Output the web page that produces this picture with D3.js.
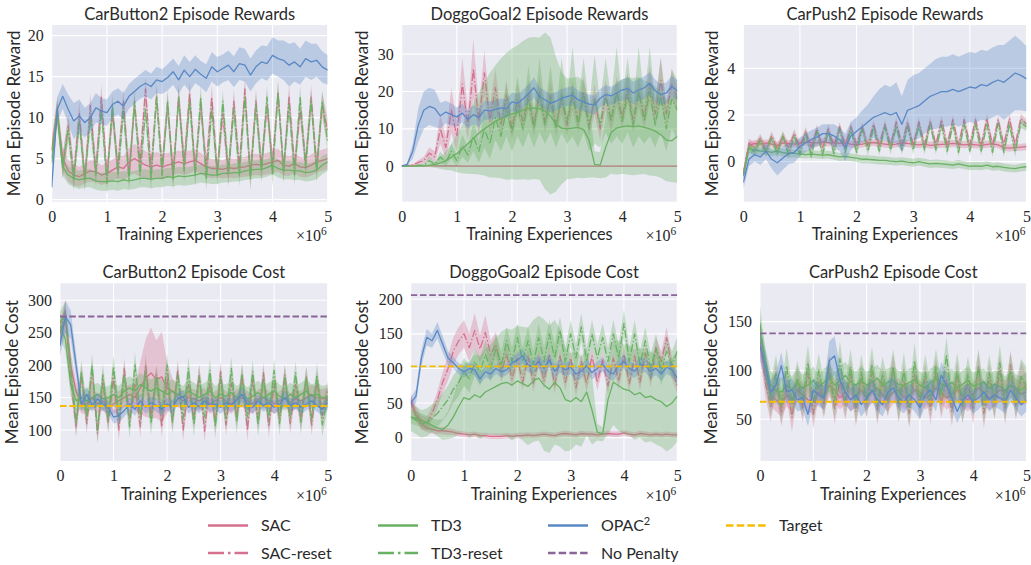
<!DOCTYPE html>
<html>
<head>
<meta charset="utf-8">
<script src="https://cdn.jsdelivr.net/npm/d3@7"></script>
<style>
  html, body { margin: 0; padding: 0; background: #ffffff; }
  svg { display: block; }
  .sans { font-family: Lato, "Open Sans", "DejaVu Sans", sans-serif; font-weight: 400; fill: #2a2a2a; }
  .serif { font-family: "Liberation Serif", "DejaVu Serif", serif; fill: #262626; }
</style>
</head>
<body>
<script>
// Training progress, in millions of environment steps
const steps = [0.0, 0.1, 0.2, 0.3, 0.4, 0.5, 0.6, 0.7, 0.8, 0.9,
  1.0, 1.1, 1.2, 1.3, 1.4, 1.5, 1.6, 1.7, 1.8, 1.9,
  2.0, 2.1, 2.2, 2.3, 2.4, 2.5, 2.6, 2.7, 2.8, 2.9,
  3.0, 3.1, 3.2, 3.3, 3.4, 3.5, 3.6, 3.7, 3.8, 3.9,
  4.0, 4.1, 4.2, 4.3, 4.4, 4.5, 4.6, 4.7, 4.8, 4.9,
  5.0];
const xTicks = [0, 1, 2, 3, 4, 5];

// ---------- CarButton2 rewards ----------
const cbRewOPAC = [1.5, 11.0, 12.6, 11.0, 9.6, 10.2, 9.4, 10.0, 11.2, 10.8,
  10.6, 11.6, 12.0, 11.4, 12.6, 13.2, 13.8, 14.2, 13.8, 14.6,
  14.4, 14.9, 15.6, 14.6, 15.8, 15.0, 15.9, 15.3, 14.8, 16.2,
  15.6, 16.0, 16.4, 15.6, 16.6, 16.4, 15.2, 16.2, 16.8, 16.6,
  17.6, 17.2, 17.0, 16.4, 16.8, 16.2, 17.2, 16.8, 17.0, 16.2,
  15.8];
const cbRewOPACsd = [0.5, 1.5, 1.5, 1.8, 2.2, 2.0, 1.8, 1.8, 1.8, 1.6,
  1.6, 1.6, 1.6, 1.6, 1.5, 1.5, 1.5, 1.6, 1.6, 1.6,
  1.5, 1.6, 1.6, 1.7, 1.8, 1.8, 1.7, 1.6, 1.7, 1.8,
  1.8, 1.7, 1.8, 1.9, 2.0, 2.0, 2.0, 2.0, 2.0, 2.1,
  2.2, 2.2, 2.4, 2.6, 2.4, 2.2, 2.2, 2.2, 2.0, 1.9,
  1.8];
const cbRewSAC = [6.0, 10.5, 5.0, 3.5, 3.0, 2.8, 3.2, 3.5, 3.4, 3.0,
  3.2, 3.6, 4.0, 3.8, 4.6, 5.0, 4.6, 4.2, 4.0, 4.2,
  4.0, 4.2, 4.4, 4.6, 4.4, 4.6, 4.8, 4.4, 4.0, 3.8,
  3.8, 3.7, 3.9, 3.8, 3.9, 4.0, 4.2, 4.3, 4.2, 4.4,
  4.6, 4.8, 4.2, 4.1, 4.4, 4.0, 3.9, 4.2, 4.6, 4.8,
  5.0];
const cbRewSACsd = [1.0, 1.5, 1.5, 1.3, 1.3, 1.2, 1.2, 1.3, 1.3, 1.2,
  1.2, 1.3, 1.4, 1.5, 1.7, 1.8, 1.8, 1.7, 1.6, 1.6,
  1.5, 1.5, 1.4, 1.4, 1.4, 1.4, 1.3, 1.3, 1.2, 1.2,
  1.1, 1.1, 1.2, 1.2, 1.2, 1.2, 1.3, 1.3, 1.3, 1.3,
  1.4, 1.4, 1.3, 1.2, 1.2, 1.2, 1.2, 1.3, 1.3, 1.3,
  1.3];
const cbRewTD3 = [4.5, 10.5, 4.0, 3.0, 2.6, 2.4, 2.6, 2.6, 2.3, 2.2,
  2.2, 2.3, 2.2, 2.4, 2.3, 2.4, 2.6, 2.6, 2.5, 2.6,
  2.6, 2.8, 2.7, 2.9, 2.8, 2.9, 3.0, 3.2, 3.1, 3.0,
  3.0, 3.2, 3.2, 3.3, 3.3, 3.5, 3.6, 3.7, 3.7, 3.9,
  4.2, 3.8, 3.6, 3.6, 3.5, 3.5, 3.3, 3.4, 3.6, 4.2,
  4.6];
const cbRewTD3sd = 1.1;
const cbRewSACReset = [6.0, 11.0, 4.0, 9.0, 3.0, 10.5, 2.5, 11.5, 3.5, 12.5,
  3.0, 10.5, 4.0, 12.0, 3.0, 11.5, 4.5, 13.5, 3.5, 12.5,
  4.0, 11.5, 3.0, 12.5, 4.5, 13.0, 3.5, 11.5, 4.0, 12.5,
  3.5, 10.5, 3.0, 12.0, 4.0, 13.5, 3.0, 12.0, 4.0, 11.5,
  4.5, 13.0, 3.5, 12.5, 4.0, 11.0, 4.5, 12.5, 4.0, 11.5,
  8.5];
const cbRewSACResetsd = 1.5;
const cbRewTD3Reset = [5.0, 11.0, 4.0, 8.5, 2.5, 9.5, 2.5, 10.0, 3.0, 11.0,
  2.0, 11.5, 3.0, 11.0, 2.5, 12.0, 3.0, 11.0, 2.5, 12.5,
  3.0, 12.0, 2.5, 12.5, 3.5, 12.0, 3.0, 12.5, 2.5, 11.0,
  3.0, 12.0, 3.5, 11.0, 3.0, 12.5, 2.5, 11.5, 3.5, 12.5,
  3.0, 13.0, 3.5, 11.5, 3.0, 12.5, 4.0, 12.0, 3.5, 12.0,
  7.0];
const cbRewTD3Resetsd = 1.4;

// ---------- DoggoGoal2 rewards ----------
const dgRewOPAC = [0.0, 0.5, 4.0, 11.0, 15.0, 16.0, 15.5, 13.5, 14.5, 13.8,
  13.2, 14.2, 12.5, 13.8, 13.0, 15.0, 14.8, 15.2, 15.6, 15.4,
  17.2, 16.8, 18.0, 19.4, 21.0, 18.6, 17.8, 16.8, 17.4, 18.2,
  18.6, 19.0, 17.8, 17.2, 16.6, 16.4, 18.2, 19.2, 18.8, 19.6,
  20.4, 20.8, 19.6, 20.4, 21.0, 22.2, 20.2, 19.2, 19.6, 21.4,
  20.2];
const dgRewOPACsd = [0.0, 0.3, 2.0, 4.5, 5.0, 5.0, 5.0, 3.5, 3.0, 3.0,
  2.5, 2.5, 2.5, 2.5, 2.5, 2.5, 2.5, 2.5, 2.5, 2.5,
  2.5, 2.5, 2.5, 2.5, 2.8, 2.5, 2.5, 2.5, 2.5, 2.5,
  2.5, 2.5, 2.5, 2.5, 2.5, 2.5, 2.5, 2.5, 2.5, 2.5,
  2.8, 3.0, 3.0, 3.0, 3.0, 3.0, 3.0, 2.8, 2.8, 2.8,
  2.8];
const dgRewSAC = [0.0, 0.05, 0.1, 0.1, 0.1, 0.1, 0.1, 0.05, 0.05, 0.05,
  0.05, 0.0, 0.0, 0.0, 0.0, 0.0, 0.0, 0.0, 0.0, 0.0,
  0.0, 0.0, 0.0, 0.0, 0.0, 0.0, 0.0, 0.0, 0.0, 0.0,
  0.0, 0.0, 0.0, 0.0, 0.0, 0.0, 0.0, 0.0, 0.0, 0.0,
  0.0, 0.0, 0.0, 0.0, 0.0, 0.0, 0.0, 0.0, 0.0, 0.0,
  0.0];
const dgRewSACsd = 0.2;
const dgRewTD3 = [0.0, 0.0, 0.0, 0.0, 0.1, 0.2, 0.4, 0.8, 1.5, 2.4,
  3.4, 4.6, 6.0, 7.4, 8.8, 10.0, 11.0, 12.0, 12.8, 13.4,
  14.0, 14.4, 15.0, 15.4, 15.6, 15.4, 14.8, 13.4, 11.2, 10.2,
  10.0, 10.2, 10.4, 9.8, 7.0, 0.5, 0.3, 5.0, 9.0, 10.2,
  10.6, 10.8, 10.6, 10.8, 10.4, 10.0, 9.4, 8.4, 7.0, 6.8,
  8.0];
const dgRewTD3sd = [0.0, 0.0, 0.0, 0.0, 0.2, 0.4, 0.8, 1.5, 2.5, 3.5,
  5.0, 6.5, 8.0, 9.5, 11.0, 12.5, 14.0, 15.0, 16.0, 17.0,
  17.5, 18.0, 18.5, 19.0, 19.0, 19.0, 21.0, 21.0, 18.0, 15.0,
  13.5, 13.5, 13.5, 13.0, 10.0, 3.5, 3.5, 8.0, 11.0, 12.5,
  12.6, 13.0, 13.0, 13.0, 12.5, 12.5, 12.0, 11.5, 11.0, 11.0,
  12.5];
const dgRewSACReset = [0.0, 0.2, 0.3, 1.0, 1.5, 3.5, 2.5, 10.0, 5.0, 15.0,
  8.0, 22.0, 11.0, 26.0, 12.0, 25.0, 12.0, 21.0, 11.0, 19.0,
  10.0, 18.0, 12.0, 19.0, 11.0, 20.0, 12.0, 19.0, 11.0, 18.0,
  11.0, 19.0, 12.0, 20.0, 11.0, 18.0, 10.0, 19.0, 12.0, 20.0,
  13.0, 21.0, 12.0, 20.0, 13.0, 22.0, 14.0, 23.0, 14.0, 22.0,
  18.0];
const dgRewSACResetsd = [0.0, 0.2, 0.3, 0.5, 1.0, 1.5, 1.5, 4.0, 3.0, 6.0,
  4.0, 7.0, 4.0, 8.0, 4.0, 6.0, 4.0, 5.0, 3.0, 4.0,
  3.0, 4.0, 3.0, 4.0, 3.0, 4.0, 3.0, 4.0, 3.0, 4.0,
  3.0, 4.0, 3.0, 4.0, 3.0, 4.0, 3.0, 4.0, 3.0, 4.0,
  3.0, 4.0, 3.0, 4.0, 3.0, 5.0, 3.0, 6.0, 3.0, 4.0,
  3.0];
const dgRewTD3Reset = [0.0, 0.0, 0.0, 0.3, 0.2, 1.5, 0.5, 2.5, 1.0, 4.0,
  1.5, 5.5, 3.0, 8.0, 4.0, 10.0, 6.0, 13.0, 8.0, 15.0,
  9.0, 16.0, 10.0, 18.0, 10.0, 19.0, 11.0, 18.0, 10.0, 19.0,
  12.0, 20.0, 11.0, 19.0, 10.0, 18.0, 11.0, 19.0, 12.0, 20.0,
  12.0, 19.0, 11.0, 20.0, 12.0, 20.0, 11.0, 19.0, 10.0, 18.0,
  15.0];
const dgRewTD3Resetsd = [0.0, 0.0, 0.0, 0.3, 0.3, 1.0, 0.5, 1.5, 1.0, 2.0,
  1.5, 3.0, 2.0, 4.0, 3.0, 5.0, 4.0, 6.0, 4.0, 7.0,
  5.0, 8.0, 5.0, 9.0, 5.0, 10.0, 5.0, 9.0, 5.0, 10.0,
  6.0, 12.0, 6.0, 10.0, 6.0, 12.0, 6.0, 10.0, 6.0, 12.0,
  6.0, 10.0, 6.0, 12.0, 6.0, 12.0, 6.0, 10.0, 6.0, 8.0,
  8.0];

// ---------- CarPush2 rewards ----------
const cpRewOPAC = [-0.9, 0.1, 0.3, 0.2, 0.45, 0.1, -0.05, 0.15, 0.35, 0.4,
  0.65, 0.8, 0.95, 1.05, 1.2, 1.2, 1.1, 0.95, 0.6, 1.1,
  1.3, 1.5, 1.7, 1.9, 2.0, 2.1, 2.0, 2.1, 1.6, 2.2,
  2.3, 2.4, 2.6, 2.8, 2.9, 3.0, 3.0, 3.1, 3.0, 3.1,
  3.2, 3.15, 3.3, 3.25, 3.4, 3.5, 3.4, 3.6, 3.8, 3.7,
  3.55];
const cpRewOPACsd = [0.3, 0.3, 0.3, 0.35, 0.35, 0.4, 0.55, 0.5, 0.45, 0.45,
  0.4, 0.4, 0.4, 0.4, 0.4, 0.4, 0.5, 0.5, 0.6, 0.6,
  0.6, 0.7, 0.75, 0.9, 1.1, 1.2, 1.2, 1.3, 1.2, 1.3,
  1.4, 1.4, 1.4, 1.4, 1.5, 1.5, 1.5, 1.5, 1.5, 1.5,
  1.5, 1.5, 1.5, 1.5, 1.5, 1.5, 1.6, 1.6, 1.6, 1.5,
  1.4];
const cpRewSAC = [-0.5, 0.7, 0.78, 0.76, 0.8, 0.75, 0.7, 0.8, 0.78, 0.75,
  0.8, 0.85, 0.82, 0.8, 0.85, 0.8, 0.82, 0.78, 0.8, 0.75,
  0.72, 0.75, 0.8, 0.82, 0.78, 0.75, 0.72, 0.75, 0.8, 0.78,
  0.74, 0.72, 0.75, 0.7, 0.72, 0.74, 0.75, 0.78, 0.75, 0.72,
  0.74, 0.72, 0.7, 0.74, 0.76, 0.72, 0.6, 0.58, 0.6, 0.62,
  0.64];
const cpRewSACsd = 0.15;
const cpRewTD3 = [-0.6, 0.55, 0.5, 0.45, 0.45, 0.4, 0.45, 0.38, 0.35, 0.35,
  0.33, 0.3, 0.32, 0.3, 0.28, 0.3, 0.25, 0.2, 0.22, 0.18,
  0.15, 0.1, 0.1, 0.08, 0.05, 0.05, 0.02, 0.0, 0.02, -0.02,
  -0.05, 0.0, -0.05, -0.1, -0.08, -0.1, -0.12, -0.15, -0.1, -0.15,
  -0.2, -0.18, -0.2, -0.15, -0.22, -0.2, -0.25, -0.28, -0.3, -0.25,
  -0.22];
const cpRewTD3sd = 0.17;
const cpRewSACReset = [-0.5, 0.8, 0.6, 1.0, 0.5, 1.1, 0.55, 1.1, 0.6, 1.2,
  0.6, 1.3, 0.6, 1.4, 0.6, 1.4, 0.65, 1.5, 0.7, 1.5,
  0.7, 1.5, 0.7, 1.6, 0.7, 1.6, 0.7, 1.7, 0.7, 1.7,
  0.7, 1.7, 0.7, 1.75, 0.7, 1.8, 0.7, 1.8, 0.7, 1.8,
  0.7, 1.8, 0.7, 1.85, 0.7, 1.8, 0.7, 1.85, 0.7, 1.85,
  1.6];
const cpRewSACResetsd = 0.2;
const cpRewTD3Reset = [-0.6, 0.6, 0.4, 0.9, 0.4, 1.0, 0.35, 1.1, 0.3, 1.1,
  0.3, 1.2, 0.25, 1.3, 0.3, 1.3, 0.35, 1.4, 0.4, 1.4,
  0.4, 1.4, 0.45, 1.45, 0.45, 1.5, 0.5, 1.5, 0.5, 1.5,
  0.5, 1.55, 0.5, 1.6, 0.5, 1.55, 0.45, 1.6, 0.4, 1.6,
  0.45, 1.6, 0.45, 1.6, 0.4, 1.65, 0.4, 1.6, 0.4, 1.65,
  1.5];
const cpRewTD3Resetsd = 0.2;

// ---------- CarButton2 cost ----------
const cbCostOPAC = [230, 275, 262, 200, 140, 155, 138, 148, 140, 135,
  120, 122, 130, 140, 132, 145, 135, 142, 138, 132,
  140, 136, 148, 152, 135, 142, 136, 145, 138, 140,
  135, 142, 138, 146, 155, 140, 135, 145, 138, 142,
  135, 140, 150, 138, 142, 135, 140, 145, 138, 132,
  142];
const cbCostOPACsd = [15, 25, 22, 18, 12, 12, 10, 10, 10, 10,
  10, 10, 10, 10, 10, 10, 10, 10, 10, 10,
  10, 10, 10, 10, 10, 10, 10, 10, 10, 10,
  10, 10, 10, 10, 12, 10, 10, 10, 10, 10,
  10, 10, 12, 10, 10, 10, 10, 10, 10, 10,
  10];
const cbCostSAC = [250, 270, 200, 160, 140, 140, 150, 140, 145, 135,
  140, 145, 150, 155, 150, 165, 180, 188, 178, 182,
  165, 160, 150, 145, 150, 148, 145, 150, 140, 145,
  150, 145, 140, 148, 150, 145, 140, 148, 150, 145,
  140, 145, 150, 142, 148, 145, 150, 155, 150, 148,
  150];
const cbCostSACsd = [15, 20, 20, 15, 15, 15, 15, 15, 15, 15,
  15, 15, 15, 15, 20, 40, 60, 70, 60, 70,
  40, 20, 15, 15, 15, 15, 15, 15, 15, 15,
  15, 15, 15, 15, 15, 15, 15, 15, 15, 15,
  15, 15, 15, 15, 15, 15, 15, 15, 15, 15,
  15];
const cbCostTD3 = [260, 240, 170, 145, 150, 145, 150, 155, 148, 150,
  155, 150, 160, 165, 160, 170, 165, 160, 165, 160,
  155, 160, 155, 150, 160, 155, 150, 155, 160, 150,
  155, 152, 158, 150, 155, 148, 152, 158, 150, 155,
  160, 152, 148, 155, 150, 155, 160, 152, 155, 150,
  152];
const cbCostTD3sd = 18;
const cbCostSACReset = [250, 285, 180, 105, 185, 110, 190, 95, 175, 112,
  180, 100, 195, 115, 170, 105, 200, 120, 185, 105,
  178, 115, 192, 100, 170, 118, 185, 98, 175, 112,
  190, 108, 172, 120, 185, 100, 178, 115, 188, 105,
  172, 118, 185, 110, 170, 115, 182, 108, 176, 122,
  160];
const cbCostSACResetsd = 16;
const cbCostTD3Reset = [265, 280, 200, 110, 190, 120, 200, 100, 185, 115,
  198, 118, 185, 105, 202, 120, 190, 110, 180, 125,
  200, 112, 185, 118, 195, 108, 182, 120, 192, 105,
  180, 118, 195, 112, 185, 120, 190, 108, 178, 118,
  192, 110, 182, 120, 188, 112, 180, 118, 185, 108,
  150];
const cbCostTD3Resetsd = 18;

// ---------- DoggoGoal2 cost ----------
const dgCostOPAC = [50, 60, 115, 145, 140, 155, 135, 115, 108, 100,
  95, 100, 98, 85, 95, 92, 100, 95, 98, 108,
  112, 118, 105, 102, 110, 100, 112, 96, 104, 98,
  102, 92, 96, 104, 94, 100, 106, 96, 92, 104,
  110, 100, 96, 106, 104, 96, 100, 92, 102, 98,
  86];
const dgCostOPACsd = [8, 10, 12, 12, 10, 12, 12, 10, 8, 8,
  8, 8, 8, 8, 8, 8, 8, 8, 8, 8,
  10, 10, 10, 10, 10, 10, 10, 10, 10, 10,
  10, 10, 10, 10, 10, 10, 10, 10, 10, 10,
  10, 10, 10, 10, 10, 10, 10, 10, 10, 10,
  10];
const dgCostSAC = [55, 32, 20, 14, 12, 10, 10, 9, 8, 6,
  5, 4, 5, 3, 3, 2, 2, 2, 3, 2,
  3, 3, 4, 3, 4, 5, 4, 3, 5, 6,
  5, 4, 6, 5, 5, 4, 5, 6, 5, 5,
  7, 5, 4, 6, 5, 4, 5, 4, 5, 4,
  4];
const dgCostSACsd = [10, 8, 8, 6, 6, 5, 5, 5, 4, 4,
  4, 4, 4, 4, 4, 4, 4, 4, 4, 4,
  4, 4, 4, 4, 4, 4, 4, 4, 4, 4,
  4, 4, 4, 4, 4, 4, 4, 4, 4, 4,
  4, 4, 4, 4, 4, 4, 4, 4, 4, 4,
  4];
const dgCostTD3 = [30, 28, 25, 22, 18, 14, 12, 18, 30, 45,
  58, 55, 62, 58, 66, 70, 74, 78, 80, 76,
  82, 78, 74, 82, 86, 76, 70, 80, 72, 55,
  52, 58, 52, 66, 40, 8, 5, 55, 80, 75,
  70, 68, 62, 65, 58, 60, 55, 52, 45, 50,
  60];
const dgCostTD3sd = [10, 10, 10, 10, 10, 12, 15, 20, 30, 40,
  50, 55, 58, 60, 62, 65, 70, 75, 78, 80,
  80, 82, 85, 88, 90, 95, 92, 90, 85, 75,
  70, 68, 65, 62, 50, 12, 10, 50, 62, 65,
  65, 65, 65, 65, 65, 65, 65, 65, 65, 65,
  65];
const dgCostSACReset = [50, 35, 22, 20, 35, 55, 80, 100, 125, 140,
  150, 130, 155, 128, 152, 120, 135, 95, 120, 85,
  115, 80, 118, 78, 115, 82, 120, 75, 118, 80,
  115, 72, 110, 78, 118, 80, 112, 75, 115, 82,
  120, 78, 118, 80, 122, 85, 130, 110, 145, 100,
  75];
const dgCostSACResetsd = [10, 10, 10, 10, 10, 12, 15, 18, 20, 20,
  20, 20, 25, 20, 25, 20, 18, 15, 15, 12,
  12, 12, 12, 12, 12, 12, 12, 12, 12, 12,
  12, 12, 12, 12, 12, 12, 12, 12, 12, 12,
  12, 12, 12, 12, 12, 12, 15, 15, 15, 15,
  12];
const dgCostTD3Reset = [30, 25, 20, 22, 28, 35, 45, 55, 70, 80,
  95, 85, 110, 95, 120, 100, 130, 105, 140, 110,
  145, 110, 140, 105, 145, 110, 150, 115, 155, 110,
  150, 115, 160, 110, 150, 115, 145, 110, 150, 115,
  165, 110, 150, 105, 140, 100, 130, 95, 125, 105,
  125];
const dgCostTD3Resetsd = 20;

// ---------- CarPush2 cost ----------
const cpCostOPAC = [125, 105, 78, 85, 105, 78, 80, 70, 72, 55,
  80, 75, 72, 110, 115, 90, 78, 70, 75, 65,
  72, 80, 70, 65, 78, 82, 72, 68, 75, 70,
  62, 75, 80, 70, 95, 85, 72, 58, 70, 75,
  68, 72, 78, 70, 75, 72, 68, 80, 72, 65,
  70];
const cpCostOPACsd = [15, 15, 12, 12, 14, 12, 12, 12, 12, 12,
  12, 12, 12, 20, 20, 14, 12, 12, 12, 12,
  12, 12, 12, 12, 12, 12, 12, 12, 12, 12,
  12, 12, 12, 12, 14, 12, 12, 12, 12, 12,
  12, 12, 12, 12, 12, 12, 12, 12, 12, 12,
  12];
const cpCostSAC = [130, 95, 75, 70, 65, 75, 70, 80, 75, 70,
  68, 78, 72, 85, 80, 72, 78, 70, 75, 80,
  72, 78, 82, 75, 70, 78, 80, 72, 75, 80,
  78, 72, 75, 82, 78, 72, 76, 80, 74, 70,
  76, 82, 78, 72, 75, 80, 78, 85, 80, 76,
  78];
const cpCostSACsd = 12;
const cpCostTD3 = [140, 110, 85, 80, 78, 85, 80, 88, 82, 85,
  90, 82, 88, 92, 85, 90, 95, 88, 85, 90,
  85, 88, 92, 85, 88, 90, 86, 84, 88, 90,
  85, 82, 88, 92, 86, 84, 88, 82, 86, 90,
  84, 86, 88, 82, 86, 84, 80, 85, 82, 80,
  84];
const cpCostTD3sd = 14;
const cpCostSACReset = [130, 88, 62, 92, 58, 85, 52, 90, 62, 98,
  55, 88, 66, 102, 60, 90, 64, 96, 58, 92,
  66, 98, 60, 88, 68, 102, 62, 90, 56, 96,
  64, 92, 60, 98, 66, 90, 58, 94, 62, 88,
  60, 104, 56, 92, 66, 100, 60, 106, 64, 94,
  80];
const cpCostSACResetsd = 15;
const cpCostTD3Reset = [148, 102, 70, 98, 64, 105, 66, 92, 70, 108,
  66, 100, 72, 96, 68, 112, 70, 104, 64, 98,
  70, 106, 66, 96, 72, 104, 66, 100, 62, 110,
  68, 98, 70, 104, 74, 116, 66, 100, 64, 96,
  70, 104, 64, 98, 68, 108, 66, 100, 70, 94,
  85];
const cpCostTD3Resetsd = 18;

// Reference levels for the cost panels
const targetCost = { carButton: 137, doggoGoal: 103, carPush: 68 };
const noPenaltyCost = { carButton: 275, doggoGoal: 206, carPush: 138 };

// ---------- styles ----------
const COLORS = {
  SAC: "#d5708e",
  TD3: "#69b163",
  OPAC: "#5a88c5",
  target: "#f5bd00",
  noPenalty: "#8a6597"
};
const BG = "#eaeaf2";

function mk(name, color, mean, sd, dashed) {
  return { name, color, mean, sd, dashed };
}

const panels = [
  {
    title: "CarButton2 Episode Rewards", ylabel: "Mean Episode Reward",
    box: [51.7, 25, 327.7, 201.7], yDomain: [-0.25, 21.3], yTicks: [0, 5, 10, 15, 20], ylabelX: 20,
    series: [
      mk("SAC", COLORS.SAC, cbRewSAC, cbRewSACsd, false),
      mk("SAC-reset", COLORS.SAC, cbRewSACReset, cbRewSACResetsd, true),
      mk("TD3", COLORS.TD3, cbRewTD3, cbRewTD3sd, false),
      mk("TD3-reset", COLORS.TD3, cbRewTD3Reset, cbRewTD3Resetsd, true),
      mk("OPAC", COLORS.OPAC, cbRewOPAC, cbRewOPACsd, false)
    ]
  },
  {
    title: "DoggoGoal2 Episode Rewards", ylabel: "Mean Episode Reward",
    box: [401.7, 25, 677.3, 201.7], yDomain: [-9.5, 37.8], yTicks: [0, 10, 20, 30], ylabelX: 368,
    series: [
      mk("SAC", COLORS.SAC, dgRewSAC, dgRewSACsd, false),
      mk("SAC-reset", COLORS.SAC, dgRewSACReset, dgRewSACResetsd, true),
      mk("TD3", COLORS.TD3, dgRewTD3, dgRewTD3sd, false),
      mk("TD3-reset", COLORS.TD3, dgRewTD3Reset, dgRewTD3Resetsd, true),
      mk("OPAC", COLORS.OPAC, dgRewOPAC, dgRewOPACsd, false)
    ]
  },
  {
    title: "CarPush2 Episode Rewards", ylabel: "Mean Episode Reward",
    box: [743.3, 25, 1026.5, 201.7], yDomain: [-1.72, 5.86], yTicks: [0, 2, 4], ylabelX: 718,
    series: [
      mk("SAC", COLORS.SAC, cpRewSAC, cpRewSACsd, false),
      mk("SAC-reset", COLORS.SAC, cpRewSACReset, cpRewSACResetsd, true),
      mk("TD3", COLORS.TD3, cpRewTD3, cpRewTD3sd, false),
      mk("TD3-reset", COLORS.TD3, cpRewTD3Reset, cpRewTD3Resetsd, true),
      mk("OPAC", COLORS.OPAC, cpRewOPAC, cpRewOPACsd, false)
    ]
  },
  {
    title: "CarButton2 Episode Cost", ylabel: "Mean Episode Cost",
    box: [60, 283.3, 327.7, 461], yDomain: [52.2, 326.2], yTicks: [100, 150, 200, 250, 300], ylabelX: 18,
    target: targetCost.carButton, noPenalty: noPenaltyCost.carButton,
    series: [
      mk("SAC", COLORS.SAC, cbCostSAC, cbCostSACsd, false),
      mk("SAC-reset", COLORS.SAC, cbCostSACReset, cbCostSACResetsd, true),
      mk("TD3", COLORS.TD3, cbCostTD3, cbCostTD3sd, false),
      mk("TD3-reset", COLORS.TD3, cbCostTD3Reset, cbCostTD3Resetsd, true),
      mk("OPAC", COLORS.OPAC, cbCostOPAC, cbCostOPACsd, false)
    ]
  },
  {
    title: "DoggoGoal2 Episode Cost", ylabel: "Mean Episode Cost",
    box: [410.7, 283.3, 677.3, 461], yDomain: [-33.7, 223], yTicks: [0, 50, 100, 150, 200], ylabelX: 368,
    target: targetCost.doggoGoal, noPenalty: noPenaltyCost.doggoGoal,
    series: [
      mk("SAC", COLORS.SAC, dgCostSAC, dgCostSACsd, false),
      mk("SAC-reset", COLORS.SAC, dgCostSACReset, dgCostSACResetsd, true),
      mk("TD3", COLORS.TD3, dgCostTD3, dgCostTD3sd, false),
      mk("TD3-reset", COLORS.TD3, dgCostTD3Reset, dgCostTD3Resetsd, true),
      mk("OPAC", COLORS.OPAC, dgCostOPAC, dgCostOPACsd, false)
    ]
  },
  {
    title: "CarPush2 Episode Cost", ylabel: "Mean Episode Cost",
    box: [760, 283.3, 1026.5, 461], yDomain: [7.3, 189.3], yTicks: [50, 100, 150], ylabelX: 717,
    target: targetCost.carPush, noPenalty: noPenaltyCost.carPush,
    series: [
      mk("SAC", COLORS.SAC, cpCostSAC, cpCostSACsd, false),
      mk("SAC-reset", COLORS.SAC, cpCostSACReset, cpCostSACResetsd, true),
      mk("TD3", COLORS.TD3, cpCostTD3, cpCostTD3sd, false),
      mk("TD3-reset", COLORS.TD3, cpCostTD3Reset, cpCostTD3Resetsd, true),
      mk("OPAC", COLORS.OPAC, cpCostOPAC, cpCostOPACsd, false)
    ]
  }
];

const W = 1031, H = 565;
const svg = d3.select("body").append("svg").attr("width", W).attr("height", H);

panels.forEach((p, pi) => {
  const [left, top, right, bottom] = p.box;
  const x = d3.scaleLinear().domain([0, 5]).range([left, right]);
  const y = d3.scaleLinear().domain(p.yDomain).range([bottom, top]);
  const g = svg.append("g");

  g.append("rect").attr("x", left).attr("y", top)
    .attr("width", right - left).attr("height", bottom - top).attr("fill", BG);

  // white grid
  g.selectAll(null).data(xTicks).join("line")
    .attr("x1", d => x(d)).attr("x2", d => x(d)).attr("y1", top).attr("y2", bottom)
    .attr("stroke", "#fff").attr("stroke-width", 1.1);
  g.selectAll(null).data(p.yTicks).join("line")
    .attr("x1", left).attr("x2", right).attr("y1", d => y(d)).attr("y2", d => y(d))
    .attr("stroke", "#fff").attr("stroke-width", 1.1);

  const clipId = "clip" + pi;
  svg.append("clipPath").attr("id", clipId).append("rect")
    .attr("x", left).attr("y", top).attr("width", right - left).attr("height", bottom - top);
  const plot = g.append("g").attr("clip-path", `url(#${clipId})`);

  p.series.forEach(s => {
    const sdAt = i => Array.isArray(s.sd) ? s.sd[i] : s.sd;
    const pts = steps.map((t, i) => ({ t, m: s.mean[i], sd: sdAt(i) }));
    const area = d3.area().x(d => x(d.t)).y0(d => y(d.m - d.sd)).y1(d => y(d.m + d.sd));
    const line = d3.line().x(d => x(d.t)).y(d => y(d.m));
    plot.append("path").attr("d", area(pts)).attr("fill", s.color).attr("fill-opacity", 0.33);
    plot.append("path").attr("d", line(pts)).attr("fill", "none").attr("stroke", s.color)
      .attr("stroke-width", 1.3).attr("stroke-linejoin", "round")
      .attr("stroke-dasharray", s.dashed ? "8,2.2,1.4,2.2" : null);
  });

  if (p.target !== undefined) {
    plot.append("line").attr("x1", left).attr("x2", right)
      .attr("y1", y(p.target)).attr("y2", y(p.target))
      .attr("stroke", COLORS.target).attr("stroke-width", 1.8).attr("stroke-dasharray", "6.5,2.8");
    plot.append("line").attr("x1", left).attr("x2", right)
      .attr("y1", y(p.noPenalty)).attr("y2", y(p.noPenalty))
      .attr("stroke", COLORS.noPenalty).attr("stroke-width", 1.8).attr("stroke-dasharray", "6.5,2.8");
  }

  // axes
  const xAxis = d3.axisBottom(x).tickValues(xTicks).tickSize(0).tickPadding(9).tickFormat(d3.format("d"));
  const yAxis = d3.axisLeft(y).tickValues(p.yTicks).tickSize(0).tickPadding(8).tickFormat(d3.format("d"));
  const gx = g.append("g").attr("transform", `translate(0,${bottom})`).call(xAxis);
  const gy = g.append("g").attr("transform", `translate(${left},0)`).call(yAxis);
  [gx, gy].forEach(a => {
    a.select(".domain").remove();
    a.selectAll("text").attr("class", "serif").style("font-size", "16px").attr("fill", "#262626");
  });

  // title and labels
  const cx = (left + right) / 2;
  g.append("text").attr("class", "sans").attr("x", cx).attr("y", top - 5.5)
    .attr("text-anchor", "middle").style("font-size", "16.5px").text(p.title);
  g.append("text").attr("class", "sans").attr("x", cx).attr("y", bottom + 38.5)
    .attr("text-anchor", "middle").style("font-size", "16.3px").text("Training Experiences");
  const mult = g.append("text").attr("class", "serif").attr("x", right - 1).attr("y", bottom + 39.5)
    .attr("text-anchor", "end").style("font-size", "16px");
  mult.append("tspan").text("\u00d710");
  mult.append("tspan").attr("dy", -6).style("font-size", "11.5px").text("6");
  g.append("text").attr("class", "sans")
    .attr("transform", `translate(${p.ylabelX},${(top + bottom) / 2}) rotate(-90)`)
    .attr("text-anchor", "middle").style("font-size", "17px").text(p.ylabel);
});

// ---------- legend ----------
const legendItems = [
  { label: "SAC", color: COLORS.SAC, dash: null, col: 0, row: 0 },
  { label: "SAC-reset", color: COLORS.SAC, dash: "16,4,2.5,4", col: 0, row: 1 },
  { label: "TD3", color: COLORS.TD3, dash: null, col: 1, row: 0 },
  { label: "TD3-reset", color: COLORS.TD3, dash: "16,4,2.5,4", col: 1, row: 1 },
  { label: "OPAC", sup: "2", color: COLORS.OPAC, dash: null, col: 2, row: 0 },
  { label: "No Penalty", color: COLORS.noPenalty, dash: "7.5,3.2", col: 2, row: 1 },
  { label: "Target", color: COLORS.target, dash: "7.5,3.2", col: 3, row: 0 }
];
const legendColX = [208, 378, 548, 726];
const legendRowY = [525.5, 553];
const lg = svg.append("g");
legendItems.forEach(it => {
  const x0 = legendColX[it.col], y0 = legendRowY[it.row];
  lg.append("line").attr("x1", x0).attr("x2", x0 + 40).attr("y1", y0).attr("y2", y0)
    .attr("stroke", it.color).attr("stroke-width", 2.6).attr("stroke-dasharray", it.dash);
  const t = lg.append("text").attr("class", "sans").attr("x", x0 + 53).attr("y", y0 + 5.8)
    .style("font-size", "16px").text(it.label);
  if (it.sup) t.append("tspan").attr("dy", -6.5).style("font-size", "11px").text(it.sup);
});
</script>
</body>
</html>
